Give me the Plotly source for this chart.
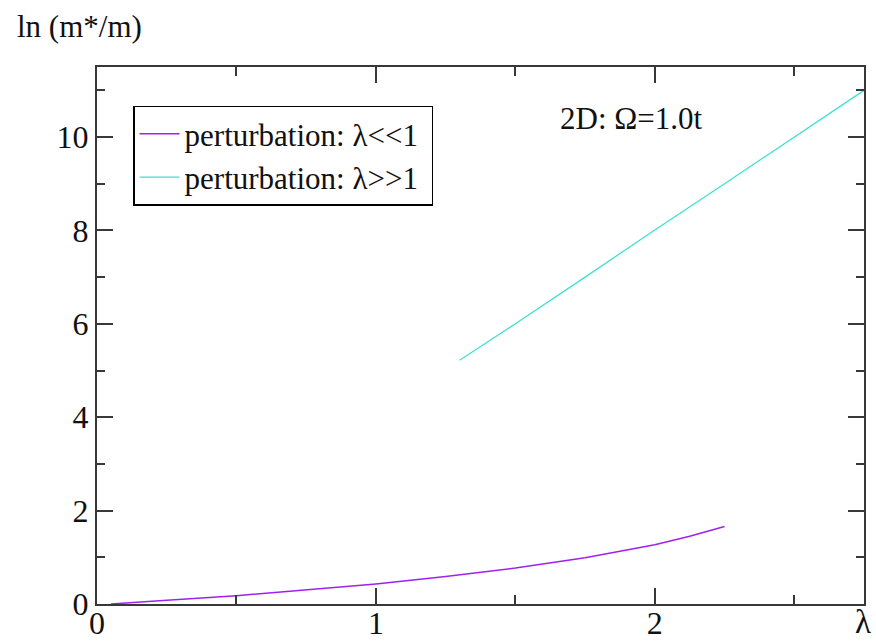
import plotly.graph_objects as go

# Series: perturbation, weak coupling (lambda << 1)
lam_weak = [0.05, 0.19, 0.25, 0.5, 0.75, 1.0, 1.25, 1.5, 1.75, 2.0, 2.125, 2.25]
ln_weak = [0.0, 0.06, 0.08, 0.176, 0.30, 0.43, 0.59, 0.77, 0.99, 1.27, 1.45, 1.66]

# Series: perturbation, strong coupling (lambda >> 1)
lam_strong = [1.3, 1.5, 1.75, 2.0, 2.25, 2.5, 2.75]
ln_strong = [5.22, 6.0, 7.0, 8.01, 9.0, 10.0, 11.0]

x_ticks = [0, 1, 2]
y_ticks = [0, 2, 4, 6, 8, 10]

FONT = "Liberation Serif"
AX = "#383838"

fig = go.Figure()
fig.add_trace(go.Scatter(x=lam_weak, y=ln_weak, mode="lines",
                         name="perturbation: λ<<1\u00a0",
                         line=dict(color="#a020f0", width=1.5)))
fig.add_trace(go.Scatter(x=lam_strong, y=ln_strong, mode="lines",
                         name="perturbation: λ>>1\u00a0",
                         line=dict(color="#40e0d0", width=1.3)))

axis_common = dict(showgrid=False, zeroline=False, showline=True, linecolor=AX,
                   linewidth=2, mirror="ticks", ticks="inside", ticklen=16,
                   tickwidth=2, tickcolor=AX, automargin=False,
                   tickfont=dict(family=FONT, size=32, color="#111"))

fig.update_xaxes(range=[0, 2.75], tickvals=x_ticks, ticktext=[str(v) for v in x_ticks],
                 ticklabelstandoff=-10,
                 minor=dict(dtick=0.5, ticks="inside", ticklen=9, tickwidth=2, tickcolor=AX),
                 **axis_common)
fig.update_yaxes(range=[0, 11.5], tickvals=y_ticks, ticktext=[str(v) for v in y_ticks],
                 minor=dict(dtick=1, ticks="inside", ticklen=8, tickwidth=2, tickcolor=AX),
                 **axis_common)

fig.add_annotation(text="ln (m*/m)", xref="paper", yref="paper", x=-0.107, y=1.076,
                   xanchor="left", yanchor="middle", showarrow=False,
                   font=dict(family=FONT, size=31, color="#111"))
fig.add_annotation(text="2D: Ω=1.0t", xref="paper", yref="paper", x=0.601, y=0.904,
                   xanchor="left", yanchor="middle", showarrow=False,
                   font=dict(family=FONT, size=31, color="#111"))
fig.add_annotation(text="λ", xref="paper", yref="paper", x=0.999, y=-0.034,
                   xanchor="center", yanchor="middle", showarrow=False,
                   font=dict(family=FONT, size=33, color="#111"))

fig.update_layout(
    width=876, height=642,
    margin=dict(l=97, r=12, t=67, b=38),
    paper_bgcolor="white", plot_bgcolor="white",
    showlegend=True,
    legend=dict(x=0.047, y=0.928, xanchor="left", yanchor="top",
                bgcolor="white", bordercolor="black", borderwidth=1.5,
                font=dict(family=FONT, size=31, color="#111"),
                tracegroupgap=0, itemwidth=40),
)

fig.write_html("out.html")
